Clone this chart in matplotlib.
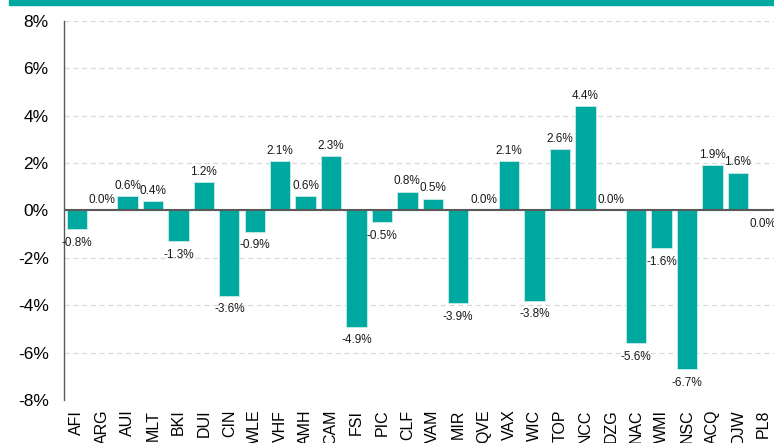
"""
Percentage change by ticker, teal bar chart with value labels.
"""

import math
import matplotlib
matplotlib.use("Agg")
import matplotlib.pyplot as plt
import matplotlib.patches as mpatches
from matplotlib.ticker import FuncFormatter

# ── Data ──────────────────────────────────────────────────────────────────────
TICKERS = ["AFI", "ARG", "AUI", "MLT", "BKI", "DUI", "CIN", "WLE", "VHF", "AMH",
           "CAM", "FSI", "PIC", "CLF", "VAM", "MIR", "QVE", "VAX", "WIC", "TOP",
           "NCC", "DZG", "NAC", "WMI", "NSC", "ACQ", "DJW", "PL8"]
CHANGE_PCT = [-0.8, 0.0, 0.6, 0.4, -1.3, 1.2, -3.6, -0.9, 2.1, 0.6,
              2.3, -4.9, -0.5, 0.8, 0.5, -3.9, 0.0, 2.1, -3.8, 2.6,
              4.4, 0.0, -5.6, -1.6, -6.7, 1.9, 1.6, -0.0]
Y_TICKS = [-8, -6, -4, -2, 0, 2, 4, 6, 8]

# ── Style ─────────────────────────────────────────────────────────────────────
TEAL = "#00A99F"
DARK = "#595959"
GRID = "#d9d9d9"
plt.rcParams["font.family"] = ["Liberation Sans", "DejaVu Sans"]

fig = plt.figure(figsize=(7.74, 4.43), dpi=100)
ax = fig.add_axes([0.0827, 0.0971, 0.9200, 0.8555])

# teal header strip across the top
fig.patches.append(mpatches.Rectangle((9 / 774, 1 - 5 / 443), 1, 5 / 443,
                                      transform=fig.transFigure,
                                      color=TEAL, zorder=0))

x = list(range(len(TICKERS)))
ax.bar(x, CHANGE_PCT, width=0.8, color=TEAL, edgecolor="#c8ece9",
       linewidth=0.6, zorder=2)
ax.axhline(0, color=DARK, lw=1.5, zorder=3)

# value labels: above positive bars, below negative ones (PL8 is -0.0)
for xi, v in zip(x, CHANGE_PCT):
    neg = math.copysign(1, v) < 0
    ax.annotate(f"{abs(v):.1f}%" if v == 0 else f"{v:.1f}%",
                (xi, v), xytext=(0, -5.5 if neg else 3),
                textcoords="offset points", ha="center",
                va="top" if neg else "bottom", fontsize=8.5, color="#1a1a1a",
                zorder=4)

ax.set_xlim(-0.5, len(TICKERS) - 0.5)
ax.set_ylim(Y_TICKS[0], Y_TICKS[-1])
ax.set_yticks(Y_TICKS)
ax.yaxis.set_major_formatter(FuncFormatter(lambda v, _: f"{v:.0f}%"))
ax.set_xticks(x)
ax.set_xticklabels(TICKERS, rotation=90, fontsize=11.5)
ax.tick_params(axis="x", length=0, pad=7)
ax.tick_params(axis="y", length=0, pad=11, labelsize=12.5)

ax.grid(axis="y", color=GRID, linestyle=(0, (4, 3)), lw=0.9, zorder=0)
for s in ("top", "right", "bottom"):
    ax.spines[s].set_visible(False)
ax.spines["left"].set_color(DARK)
ax.spines["left"].set_linewidth(1.0)

fig.savefig("out.png", dpi=100)
